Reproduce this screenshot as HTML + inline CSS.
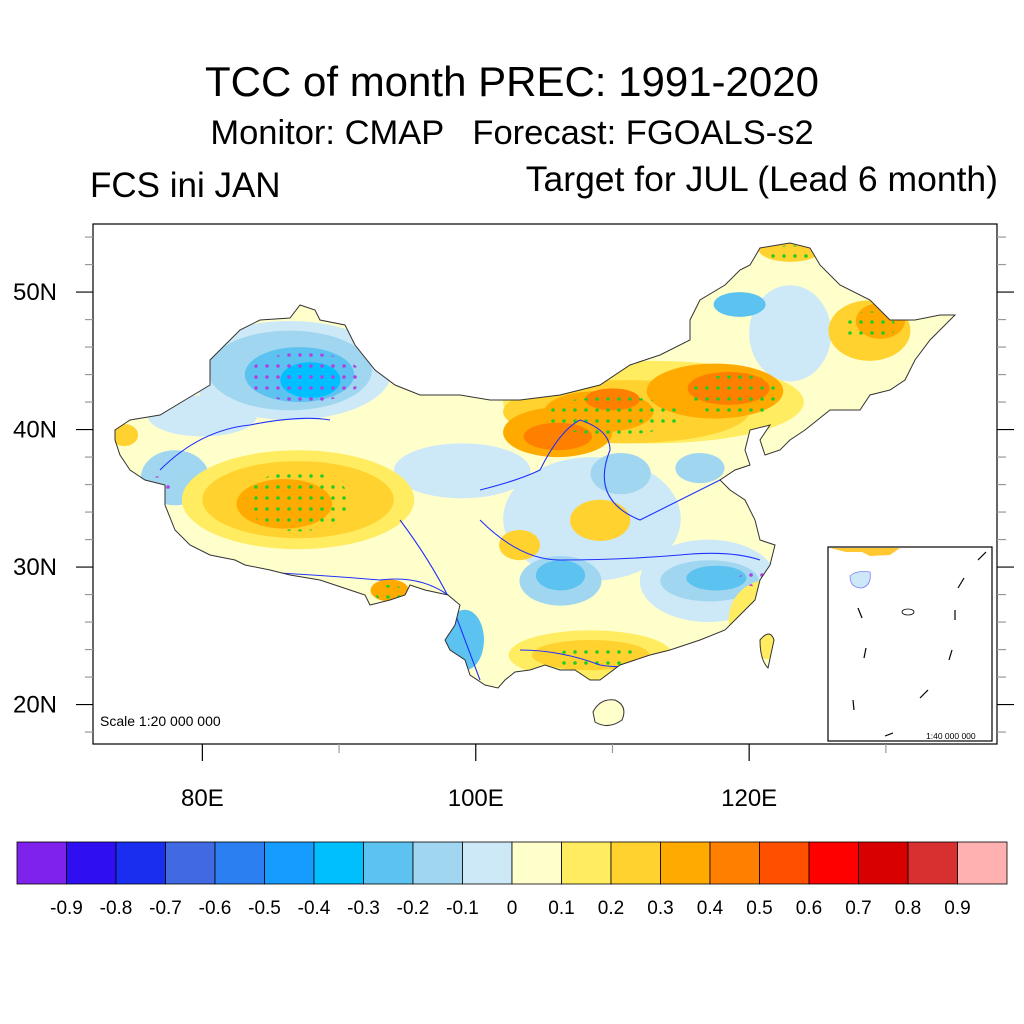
<!DOCTYPE html>
<html><head><meta charset="utf-8"><style>
html,body{margin:0;padding:0;background:#fff;}
svg{display:block;font-family:"Liberation Sans",sans-serif;}
</style></head><body>
<svg id="c" width="1024" height="1024" viewBox="0 0 1024 1024" xmlns="http://www.w3.org/2000/svg">
<defs>
<pattern id="dotG" width="11" height="11" patternUnits="userSpaceOnUse"><circle cx="3" cy="3" r="1.8" fill="#22cc22"/></pattern>
<pattern id="dotM" width="11" height="11" patternUnits="userSpaceOnUse"><circle cx="3" cy="3" r="1.8" fill="#b040e0"/></pattern>
<clipPath id="chinaClip"><path id="clipPathShape"/></clipPath>
<clipPath id="frameClip"><rect x="93" y="224" width="904" height="520"/></clipPath>
</defs>
<text x="512" y="96" font-size="42" text-anchor="middle">TCC of month PREC: 1991-2020</text>
<text x="512" y="144" font-size="34.5" text-anchor="middle" xml:space="preserve" style="white-space:pre">Monitor: CMAP   Forecast: FGOALS-s2</text>
<text x="90" y="197" font-size="35">FCS ini JAN</text>
<text x="998" y="191" font-size="35.5" text-anchor="end">Target for JUL (Lead 6 month)</text>
<g id="mapLayer" clip-path="url(#frameClip)"></g>
<rect x="93" y="224" width="904" height="520" fill="none" stroke="#000" stroke-width="1.2"/>
<g id="axes"></g>
<text x="100" y="726" font-size="14">Scale 1:20 000 000</text>
<g>
<rect x="828" y="547" width="164" height="194" fill="#fff" stroke="#000" stroke-width="1.2"/>
<path d="M830,548 L900,548 L890,555 L870,556 L862,552 L846,552 Z" fill="#ffc830"/>
<path d="M850,576 Q856,570 870,572 Q872,585 862,588 Q850,588 850,576 Z" fill="#cde9f7" stroke="#8080ff" stroke-width="0.8"/>
<g stroke="#000" stroke-width="1.2" fill="none">
<path d="M978,560 l8,-8"/><path d="M958,588 l6,-10"/><path d="M858,608 l4,10"/><path d="M955,610 l0,10"/><path d="M866,648 l-2,10"/><path d="M952,650 l-3,10"/><path d="M920,698 l8,-8"/><path d="M853,700 l1,10"/><path d="M885,736 l8,-3"/>
</g>
<ellipse cx="908" cy="612" rx="6" ry="3" fill="none" stroke="#000" stroke-width="0.8"/>
<text x="926" y="739" font-size="8.5">1:40 000 000</text>
</g>
<g id="cbar"></g>
</svg>
<script>
// ---- data ----
const levels = ["-0.9","-0.8","-0.7","-0.6","-0.5","-0.4","-0.3","-0.2","-0.1","0","0.1","0.2","0.3","0.4","0.5","0.6","0.7","0.8","0.9"];
const levelColors = ["#7f22ec","#2f0ef2","#1a2ef0","#4169e1","#2c7ff0","#169cff","#00bfff","#5cc2f0","#a0d6f0","#cde9f7","#ffffcc","#ffec60","#ffd230","#ffaa00","#ff8000","#ff5000","#ff0000","#d80000","#d83030","#ffb0b0"];
const latTicks = [20,30,40,50];
const lonTicks = [80,100,120];
// anomaly blobs: centre lon/lat, radii in degrees, TCC value
const blobLon = [86.4,80.0,108.5,117.0,99.0,123.0,78.0,87.0,87.0,86.0,113.0,111.0,106.0,109.0,117.5,106.0,118.5,110.0,86.4,87.1,87.9,74.3,123.0,128.8,129.6,119.3,110.6,116.4,106.2,106.2,117.1,117.6,108.4,108.4,99.2,103.2,109.1,93.7,121.5];
const blobLat = [44.3,41.0,33.5,29.0,37.0,47.0,36.5,34.9,34.9,34.6,42.0,41.3,39.8,41.3,42.8,39.5,43.0,42.2,44.3,44.0,43.6,39.6,53.1,47.2,47.9,49.1,36.8,37.2,29.0,29.4,29.0,29.2,23.6,23.6,24.7,31.6,33.4,28.3,26.2];
const blobRx = [7.5,4.0,6.5,5.0,5.0,3.0,2.5,8.5,7.0,3.5,11.0,9.0,4.0,4.0,5.0,2.5,3.0,2.0,6.0,4.0,2.2,1.0,2.3,3.0,1.8,1.9,2.2,1.8,3.0,1.8,3.6,2.2,6.0,4.3,1.4,1.5,2.2,1.4,3.0];
const blobRy = [3.6,1.5,4.5,3.0,2.0,3.5,2.0,3.6,2.8,1.8,3.0,2.3,1.8,1.5,2.0,1.0,1.2,0.8,2.9,2.0,1.3,0.8,0.9,2.2,1.3,0.9,1.5,1.1,1.8,1.1,1.5,0.9,1.8,1.1,2.2,1.1,1.5,0.8,2.9];
const blobVal = [-0.05,-0.05,-0.05,-0.05,-0.05,-0.05,-0.15,0.15,0.25,0.35,0.15,0.25,0.35,0.35,0.35,0.45,0.45,0.45,-0.15,-0.25,-0.35,0.25,0.25,0.25,0.35,-0.25,-0.15,-0.15,-0.15,-0.25,-0.15,-0.25,0.15,0.25,-0.25,0.25,0.25,0.35,0.15];
// stippled (significant) regions: lon, lat, rx, ry, sign
const sigLon = [87.5,87.0,110.0,119.0,128.8,109.0,93.7,120.5,123.0,76.8];
const sigLat = [43.8,34.8,41.0,42.5,47.5,23.4,28.1,29.1,52.8,36.0];
const sigRx = [4.2,3.8,5.0,3.4,1.9,3.0,1.1,1.4,1.5,1.0];
const sigRy = [1.8,2.2,1.4,1.5,1.1,1.0,0.6,0.5,0.6,0.6];
const sigSign = [-1,1,1,1,1,1,1,-1,1,-1];

// ---- projection ----
const X = lon => 93 + (lon - 72) * 13.67;
const Y = lat => 224 + (54.95 - lat) * 13.75;
const NS = "http://www.w3.org/2000/svg";
function mk(tag, attrs, parent){ const e=document.createElementNS(NS,tag); for(const k in attrs) e.setAttribute(k,attrs[k]); parent.appendChild(e); return e; }
function colorOf(v){ let i=0; while(i<levels.length && v>parseFloat(levels[i])) i++; return levelColors[i]; }

const outline = "M115,430 L130,420 L160,415 L185,400 L210,385 L210,360 L240,330 L260,320 L290,318 L300,305 L315,310 L320,320 L345,325 L355,345 L375,370 L395,385 L420,395 L460,395 L490,400 L520,400 L560,395 L600,385 L630,365 L660,355 L690,340 L690,320 L700,300 L725,285 L740,270 L750,265 L760,248 L790,243 L810,248 L820,265 L840,285 L870,300 L890,320 L915,320 L940,315 L955,315 L930,340 L915,360 L905,380 L890,390 L870,395 L860,410 L830,410 L805,430 L790,440 L780,450 L765,455 L760,440 L770,425 L750,430 L745,450 L750,465 L735,470 L720,480 L730,490 L745,500 L755,520 L760,540 L775,545 L770,565 L760,580 L755,600 L740,615 L725,630 L700,640 L670,650 L650,655 L620,665 L600,680 L590,680 L575,670 L560,670 L545,665 L530,670 L515,672 L505,680 L498,688 L485,685 L470,675 L465,660 L450,650 L445,640 L455,625 L460,605 L448,595 L425,590 L410,585 L405,595 L390,600 L370,605 L365,595 L350,590 L320,580 L290,575 L270,570 L245,565 L235,560 L210,555 L190,545 L175,530 L165,505 L165,485 L145,480 L130,470 L120,455 L115,440 Z M593,712 Q600,698 615,700 Q628,706 622,720 Q608,730 595,722 Z M760,640 Q770,628 774,640 L768,668 Q760,660 760,640 Z";
document.getElementById('clipPathShape').setAttribute('d', outline);

const map = document.getElementById('mapLayer');
const g = mk('g',{'clip-path':'url(#chinaClip)'},map);


mk('rect',{x:93,y:224,width:904,height:520,fill:'#ffffcc'},g);
for(let i=0;i<blobLon.length;i++){
  const e = mk('ellipse',{cx:X(blobLon[i]),cy:Y(blobLat[i]),rx:blobRx[i]*13.67,ry:blobRy[i]*13.75,fill:colorOf(blobVal[i])},g);
  
  
}
for(let i=0;i<sigLon.length;i++){
  const e = mk('ellipse',{cx:X(sigLon[i]),cy:Y(sigLat[i]),rx:sigRx[i]*13.67,ry:sigRy[i]*13.75,fill:sigSign[i]>0?'url(#dotG)':'url(#dotM)'},g);
  
  
}
const rv = mk('g',{fill:'none',stroke:'#2030ff','stroke-width':1.1},g);


mk('path',{d:"M160,470 Q200,430 250,425 Q300,415 330,420"},rv);
mk('path',{d:"M480,490 Q520,480 540,470 Q560,430 580,420 Q610,430 610,450 Q590,500 640,520 Q700,490 740,470"},rv);
mk('path',{d:"M480,520 Q520,560 560,560 Q620,560 680,555 Q730,550 760,560"},rv);
mk('path',{d:"M400,520 Q430,560 450,600 Q465,640 480,680"},rv);
mk('path',{d:"M520,650 Q560,650 600,665 Q630,670 650,660"},rv);
mk('path',{d:"M260,572 Q320,575 380,580 Q420,575 448,595"},rv);
mk('path',{d:outline,fill:'none',stroke:'#333','stroke-width':1},map);

const ax = document.getElementById('axes');


for(let lat=18;lat<=54;lat+=2){
  const y=Y(lat), major=latTicks.includes(lat);
  mk('line',{x1:93,x2:major?76:85,y1:y,y2:y,stroke:major?'#000':'#999','stroke-width':1.2},ax);
  mk('line',{x1:997,x2:major?1014:1006,y1:y,y2:y,stroke:major?'#000':'#999','stroke-width':1.2},ax);
}
for(let lon=80;lon<=130;lon+=10){
  const x=X(lon), major=lonTicks.includes(lon);
  mk('line',{x1:x,x2:x,y1:744,y2:major?761:753,stroke:major?'#000':'#999','stroke-width':1.2},ax);
}
latTicks.forEach(lat=>{
  const t=mk('text',{x:57,y:Y(lat)+8,'font-size':24,'text-anchor':'end'},ax);
  t.textContent=lat+'N';
  
  
});
lonTicks.forEach(lon=>{
  const t=mk('text',{x:X(lon),y:806,'font-size':24,'text-anchor':'middle'},ax);
  t.textContent=lon+'E';
  
  
});

const cb=document.getElementById('cbar');
const bw=(1007-17)/levelColors.length;
levelColors.forEach((c,i)=>{
  const r=mk('rect',{x:17+i*bw,y:842,width:bw,height:42,fill:c,stroke:'#000','stroke-width':0.8},cb);
  
  
});
levels.forEach((l,i)=>{
  const t=mk('text',{x:17+(i+1)*bw,y:914,'font-size':19,'text-anchor':'middle'},cb);
  t.textContent=l;
  
  
});
</script>
</body></html>
